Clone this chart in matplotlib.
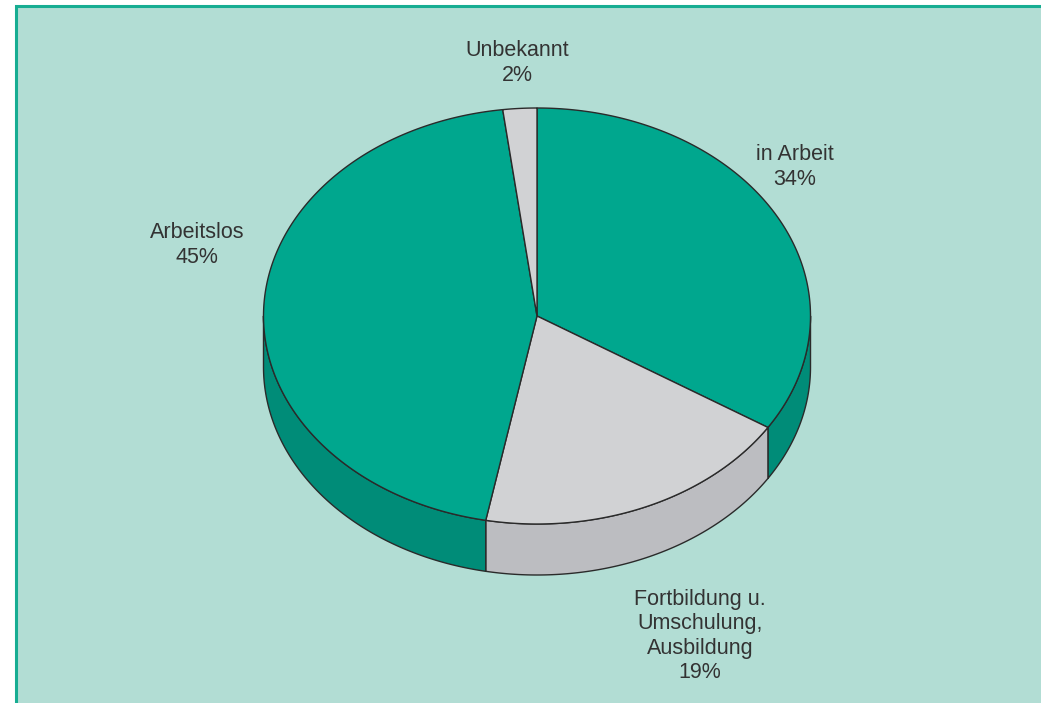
import numpy as np
import matplotlib
matplotlib.use("Agg")
import matplotlib.pyplot as plt
from matplotlib.patches import Polygon, Rectangle

# Data
categories = ["in Arbeit", "Fortbildung u.\nUmschulung,\nAusbildung", "Arbeitslos", "Unbekannt"]
values = [34, 19, 45, 2]
pct_labels = ["34%", "19%", "45%", "2%"]

top_colors = ["#00A78E", "#D1D2D4", "#00A78E", "#D1D2D4"]
side_colors = ["#008C78", "#BCBDC1", "#008C78", "#BCBDC1"]
edge = "#2a2a2a"

W, H = 1041, 703
fig = plt.figure(figsize=(W / 100, H / 100), dpi=100)
ax = fig.add_axes([0, 0, 1, 1])
ax.set_xlim(0, W)
ax.set_ylim(H, 0)
ax.axis("off")
fig.patch.set_facecolor("white")

# panel background with frame (left/top visible)
ax.add_patch(Rectangle((16, 6), W, H, facecolor="#B2DDD4", edgecolor="#17AD92", lw=2.2, zorder=0))

cx, cy, rx, ry, depth = 537, 316, 273.5, 208, 51

def pt(theta_deg, dy=0.0):
    t = np.radians(theta_deg)
    return cx + rx * np.cos(t), cy + ry * np.sin(t) + dy

total = float(sum(values))
starts = []
a = -90.0
for v in values:
    starts.append((a, a + 360.0 * v / total))
    a += 360.0 * v / total

# side walls (front half, theta in [0,180] with y downwards)
for (a0, a1), sc in zip(starts, side_colors):
    for off in (0, 360, -360):
        lo, hi = max(a0 + off, 0), min(a1 + off, 180)
        if hi > lo:
            th = np.linspace(lo, hi, 200)
            topx = cx + rx * np.cos(np.radians(th))
            topy = cy + ry * np.sin(np.radians(th))
            xs = np.concatenate([topx, topx[::-1]])
            ys = np.concatenate([topy, (topy + depth)[::-1]])
            ax.add_patch(Polygon(np.column_stack([xs, ys]), closed=True,
                                 facecolor=sc, edgecolor=edge, lw=1.0, zorder=2,
                                 joinstyle="round"))

# top faces
for (a0, a1), tc in zip(starts, top_colors):
    th = np.linspace(a0, a1, 300)
    xs = np.concatenate([[cx], cx + rx * np.cos(np.radians(th))])
    ys = np.concatenate([[cy], cy + ry * np.sin(np.radians(th))])
    ax.add_patch(Polygon(np.column_stack([xs, ys]), closed=True,
                         facecolor=tc, edgecolor=edge, lw=1.0, zorder=3,
                         joinstyle="round"))

# labels
label_pos = [(795, 167), (700, 636), (197, 245), (517, 63)]
for cat, pl, (lx, ly) in zip(categories, pct_labels, label_pos):
    ax.text(lx, ly, f"{cat}\n{pl}", ha="center", va="center",
            fontsize=15.5, family="Liberation Sans", color="#333333",
            linespacing=1.2, zorder=5)

fig.savefig("out.png", dpi=100)
